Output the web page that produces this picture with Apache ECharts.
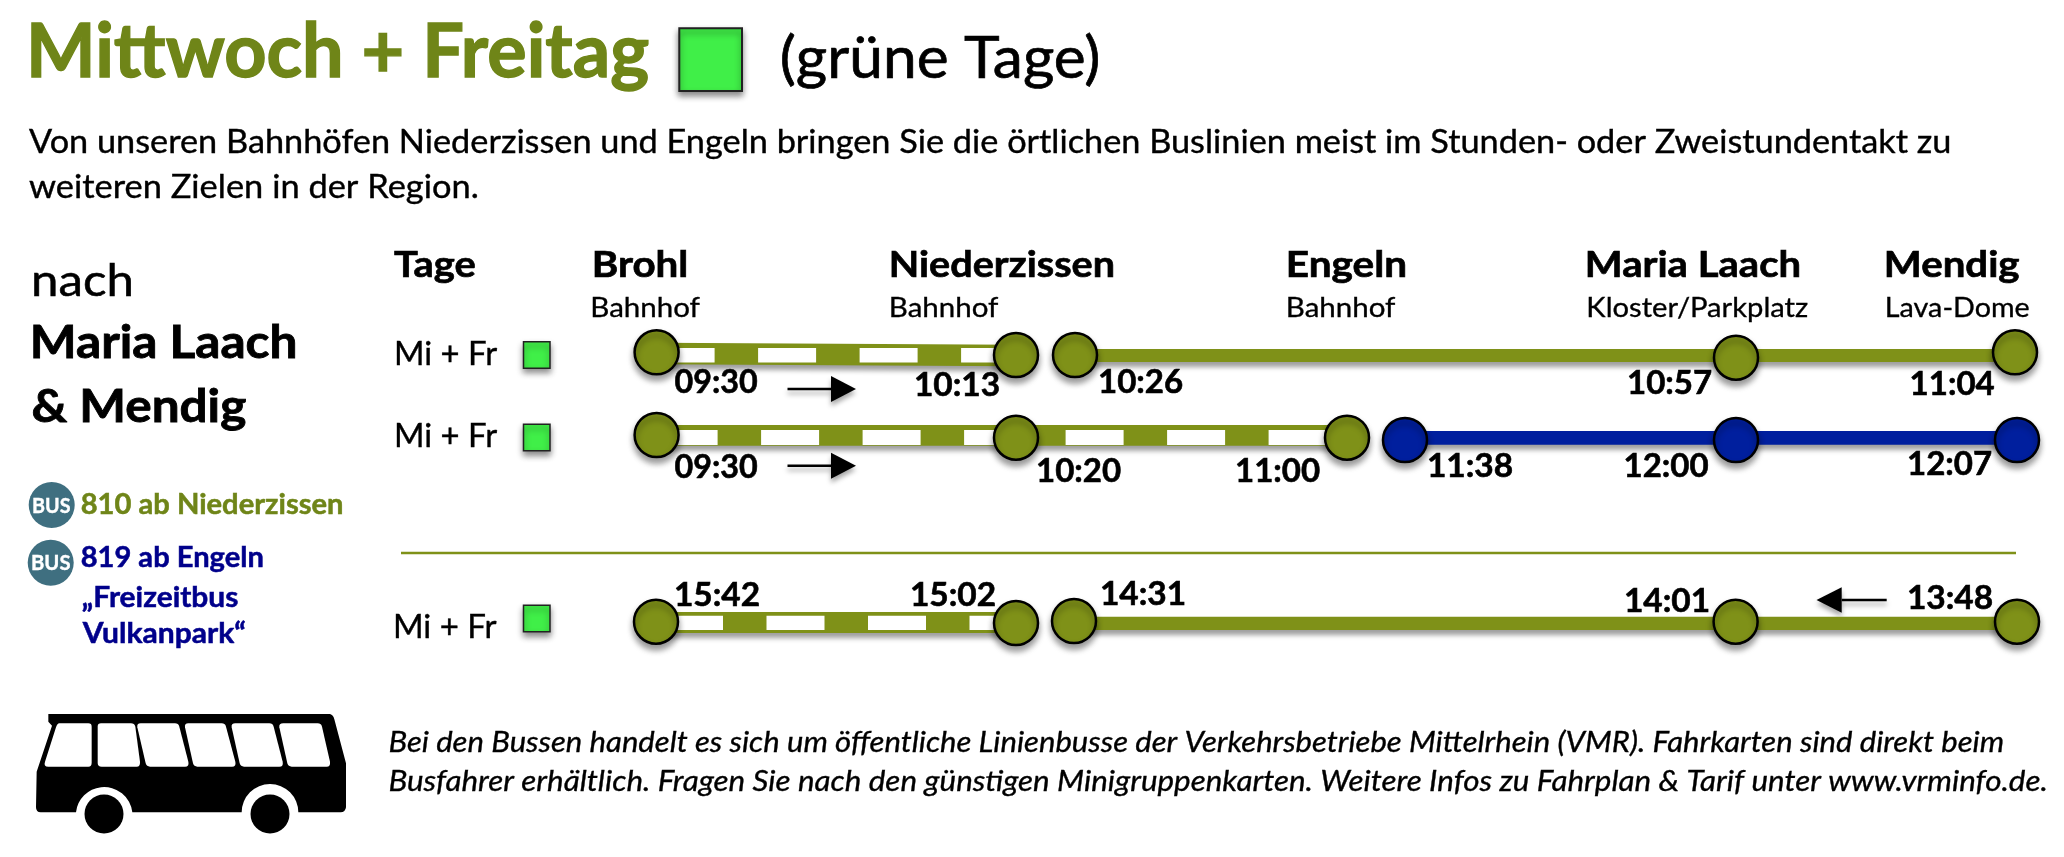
<!DOCTYPE html>
<html>
<head>
<meta charset="utf-8">
<title>Mittwoch + Freitag</title>
<script src="https://cdn.jsdelivr.net/npm/echarts@6/dist/echarts.min.js"></script>
<style>
  html, body { margin: 0; padding: 0; background: #fff; }
  #chart { width: 2064px; height: 857px; }
</style>
</head>
<body>
<div id="chart"></div>
<script>
// timetable values
const stations = ['Brohl', 'Niederzissen', 'Engeln', 'Maria Laach', 'Mendig'];
const stationSubs = ['Bahnhof', 'Bahnhof', 'Bahnhof', 'Kloster/Parkplatz', 'Lava-Dome'];
const dayLabels = ['Mi + Fr', 'Mi + Fr', 'Mi + Fr'];
const row1Train = ['09:30', '10:13'];
const row1Bus = ['10:26', '10:57', '11:04'];
const row2Train = ['09:30', '10:20', '11:00'];
const row2Bus = ['11:38', '12:00', '12:07'];
const row3Train = ['15:42', '15:02'];
const row3Bus = ['14:31', '14:01', '13:48'];

const OLIVE = '#7f9118';
const TITLE_OLIVE = '#6f8518';
const BLUE = '#001f9e';
const NAVY = '#00008b';
const GREEN = '#40ef48';
const FONT = 'Lato';

// where each leg sits on the page
const legs = [
  { times: row1Train, color: OLIVE, dashed: true, xs: [656.6, 1016], nodeY: [352.3, 355], bandY: [353.4, 355.4], band: 21.5, inkY: 355.3, ink: 14.5, shift: 0,
    labelX: [674.5, 916], labelY: [393, 395.7] },
  { times: row1Bus, color: OLIVE, xs: [1075, 1736, 2015], nodeY: [355, 357.7, 352.3], bandY: [355.5, 355.5, 355.5], band: 13,
    labelX: [1100, 1629, 1911.6], labelY: [393, 394, 395] },
  { times: row2Train, color: OLIVE, dashed: true, xs: [656.6, 1016, 1347], nodeY: [435, 437.7, 437.7], bandY: [435.4, 435.4, 435.4], band: 20.7, inkY: 437.5, ink: 15, shift: 98.5,
    labelX: [674.5, 1038, 1237], labelY: [478, 481.7, 482] },
  { times: row2Bus, color: BLUE, xs: [1405, 1736, 2017], nodeY: [440, 440, 440], bandY: [437.9, 437.9, 437.9], band: 13.7,
    labelX: [1429, 1625.5, 1909], labelY: [477, 477, 475] },
  { times: row3Train, color: OLIVE, dashed: true, xs: [656, 1016], nodeY: [621.7, 623], bandY: [622.5, 622.5], band: 21, inkY: 622.9, ink: 14.3, shift: 92.5,
    labelX: [676, 912], labelY: [605.7, 605.7] },
  { times: row3Bus, color: OLIVE, xs: [1074, 1735.6, 2017], nodeY: [621, 621.7, 621.7], bandY: [623.3, 623.3, 623.3], band: 13.3,
    labelX: [1102, 1626, 1909], labelY: [605, 611.7, 609] }
];

const measureCtx = document.createElement('canvas').getContext('2d');

// text element placed by the left edge of its ink, its baseline and its printed width
function textEl(text, x, baseline, width, size, opts) {
  opts = opts || {};
  const weight = opts.weight || 'normal';
  const fontStyle = opts.italic ? 'italic' : 'normal';
  const font = fontStyle + ' ' + weight + ' ' + size + 'px ' + FONT;
  const color = opts.color || '#000';
  measureCtx.font = font;
  const m = measureCtx.measureText(text);
  const scale = width / (m.actualBoundingBoxLeft + m.actualBoundingBoxRight);
  return {
    type: 'text',
    x: x + m.actualBoundingBoxLeft * scale,
    y: baseline - size * 0.32,
    scaleX: scale,
    z: 5,
    style: {
      text: text,
      x: 0,
      y: 0,
      font: font,
      fill: color,
      stroke: color,
      lineWidth: size * (weight === 'bold' ? 0.018 : 0.012),
      align: 'left',
      verticalAlign: 'middle'
    }
  };
}

function square(x, y, w, h, borderWidth) {
  return {
    type: 'rect',
    shape: { x: x, y: y, width: w, height: h },
    style: {
      fill: GREEN,
      stroke: '#222',
      lineWidth: borderWidth,
      shadowBlur: 6,
      shadowOffsetY: 4,
      shadowColor: 'rgba(0,0,0,0.45)'
    }
  };
}

function arrow(tailX, baseX, tipX, y, halfHead) {
  const shadow = { shadowBlur: 5, shadowOffsetY: 4, shadowColor: 'rgba(0,0,0,0.35)' };
  return [
    { type: 'line', shape: { x1: tailX, y1: y, x2: baseX, y2: y }, style: Object.assign({ stroke: '#000', lineWidth: 2.5 }, shadow) },
    { type: 'polygon', shape: { points: [[baseX, y - halfHead], [tipX, y], [baseX, y + halfHead]] }, style: Object.assign({ fill: '#000' }, shadow) }
  ];
}

function badge(cx, cy) {
  return { type: 'circle', shape: { cx: cx, cy: cy, r: 23 }, style: { fill: '#3f6f80' } };
}

// bus silhouette, drawn in a 3x grid and scaled down
const busBody = 'M145 762 L990 762 Q1000 765 1003 778 L1038 910 L1038 1042 Q1036 1057 1022 1057 L895 1057 ' +
  'A85 85 0 0 0 725 1057 L397 1057 A85 85 0 0 0 228 1057 L122 1057 Q108 1057 108 1042 L110 935 L156 797 L145 785 Z';
const busWindows = [
  'M178 790 L265 790 Q275 790 275 800 L275 908 Q275 920 265 920 L145 920 Q130 920 135 905 L168 802 Q172 790 178 790 Z',
  'M303 790 L393 790 Q403 790 406 800 L420 905 Q421 920 410 920 L305 920 Q293 920 293 908 L293 800 Q293 790 303 790 Z',
  'M422 790 L525 790 Q535 790 538 800 L565 905 Q568 920 555 920 L450 920 Q440 920 437 910 L412 802 Q410 790 422 790 Z',
  'M565 790 L665 790 Q675 790 678 800 L706 905 Q709 920 696 920 L592 920 Q582 920 579 910 L555 802 Q553 790 565 790 Z',
  'M706 790 L808 790 Q818 790 821 800 L848 905 Q851 920 838 920 L732 920 Q722 920 719 910 L695 802 Q693 790 706 790 Z',
  'M850 790 L953 790 Q963 790 966 800 L990 905 Q992 920 980 920 L875 920 Q865 920 862 910 L838 802 Q836 790 850 790 Z'
];

function busPart(pathData, fill) {
  return { type: 'path', x: 0, y: 460, scaleX: 1 / 3, scaleY: 1 / 3, shape: { pathData: pathData }, style: { fill: fill } };
}

const graphics = [
  textEl('Mittwoch + Freitag', 31, 77.3, 617, 74, { weight: 'bold', color: TITLE_OLIVE }),
  square(679.3, 28.3, 62.7, 62.7, 2),
  textEl('(grüne Tage)', 781.7, 78.3, 317, 59),
  textEl('Von unseren Bahnhöfen Niederzissen und Engeln bringen Sie die örtlichen Buslinien meist im Stunden- oder Zweistundentakt zu', 29, 153, 1921, 33),
  textEl('weiteren Zielen in der Region.', 29, 198, 448, 33),

  textEl('nach', 34.4, 296, 96.6, 44),
  textEl('Maria Laach', 33, 358.3, 262.4, 46, { weight: 'bold' }),
  textEl('& Mendig', 32.5, 422.3, 213.5, 46, { weight: 'bold' }),
  textEl('Tage', 394, 276.7, 81, 37, { weight: 'bold' }),

  textEl(stations[0], 594, 277, 92, 37, { weight: 'bold' }),
  textEl(stations[1], 891, 277, 222, 37, { weight: 'bold' }),
  textEl(stations[2], 1288, 277, 117, 37, { weight: 'bold' }),
  textEl(stations[3], 1587, 277, 212, 37, { weight: 'bold' }),
  textEl(stations[4], 1886, 277, 133, 37, { weight: 'bold' }),
  textEl(stationSubs[0], 592.5, 316.7, 108, 27),
  textEl(stationSubs[1], 891, 316.7, 108, 27),
  textEl(stationSubs[2], 1288, 316.7, 108, 27),
  textEl(stationSubs[3], 1588.5, 316.7, 219.5, 27),
  textEl(stationSubs[4], 1887, 316.7, 142.5, 27),

  textEl(dayLabels[0], 396, 365, 101.5, 32),
  textEl(dayLabels[1], 396, 446.7, 101.5, 32),
  textEl(dayLabels[2], 395, 638, 102, 32),
  square(523.5, 341.7, 26.5, 26.6, 1.5),
  square(523.5, 424.3, 26.5, 26.4, 1.5),
  square(523.5, 605.3, 26.5, 26.4, 1.5),

  badge(51.7, 505),
  textEl('BUS', 33, 512.7, 37, 21, { weight: 'bold', color: '#fff' }),
  badge(50.7, 562.7),
  textEl('BUS', 32, 570, 38, 21, { weight: 'bold', color: '#fff' }),
  textEl('810 ab Niederzissen', 81.7, 514.3, 261, 28, { weight: 'bold', color: TITLE_OLIVE }),
  textEl('819 ab Engeln', 81.7, 567, 181.3, 28, { weight: 'bold', color: NAVY }),
  textEl('„Freizeitbus', 81.7, 606.7, 156.3, 28, { weight: 'bold', color: NAVY }),
  textEl('Vulkanpark“', 81.7, 643, 163.3, 28, { weight: 'bold', color: NAVY }),

  { type: 'line', shape: { x1: 401, y1: 553, x2: 2016, y2: 553 }, style: { stroke: OLIVE, lineWidth: 2.5 } },

  textEl('Bei den Bussen handelt es sich um öffentliche Linienbusse der Verkehrsbetriebe Mittelrhein (VMR). Fahrkarten sind direkt beim', 389.5, 751.7, 1613.5, 28, { italic: true }),
  textEl('Busfahrer erhältlich. Fragen Sie nach den günstigen Minigruppenkarten. Weitere Infos zu Fahrplan & Tarif unter www.vrminfo.de.', 389.5, 790.7, 1656.5, 28, { italic: true })
].concat(
  arrow(787.5, 831, 856, 389, 13),
  arrow(787.5, 831, 856, 465.7, 13),
  arrow(1886.7, 1841.7, 1816.5, 600, 12.7)
);

const lineShadow = { shadowBlur: 5, shadowOffsetY: 5, shadowColor: 'rgba(0,0,0,0.38)' };
const series = [];

legs.forEach(function (leg) {
  series.push({
    type: 'line',
    z: 2,
    silent: true,
    symbol: 'none',
    data: leg.xs.map(function (x, i) { return [x, leg.bandY[i]]; }),
    lineStyle: Object.assign({ color: leg.color, width: leg.band, cap: 'butt' }, lineShadow)
  });
  if (leg.dashed) {
    series.push({
      type: 'line',
      z: 3,
      silent: true,
      symbol: 'none',
      data: [[leg.xs[0], leg.inkY], [leg.xs[leg.xs.length - 1], leg.inkY]],
      lineStyle: { color: '#fff', width: leg.ink, type: [58, 43.5], dashOffset: leg.shift, cap: 'butt' }
    });
  }
  series.push({
    type: 'scatter',
    z: 4,
    silent: true,
    symbol: 'circle',
    symbolSize: 44,
    data: leg.xs.map(function (x, i) { return [x, leg.nodeY[i]]; }),
    itemStyle: {
      color: leg.color,
      borderColor: '#000',
      borderWidth: 2.5,
      opacity: 1,
      shadowBlur: 6,
      shadowOffsetY: 5,
      shadowColor: 'rgba(0,0,0,0.4)'
    }
  });
  series.push({
    type: 'custom',
    z: 5,
    silent: true,
    data: leg.times.map(function (t, i) { return [leg.labelX[i], leg.labelY[i], t]; }),
    renderItem: function (params, api) {
      const p = api.coord([api.value(0), api.value(1)]);
      return textEl(leg.times[params.dataIndex], p[0], p[1], 83, 33, { weight: 'bold' });
    }
  });
});

// the bus picture needs svg paths, which only custom series can draw
series.push({
  type: 'custom',
  z: 2,
  silent: true,
  data: [[0, 0]],
  renderItem: function () {
    const children = [busPart(busBody, '#000')].concat(busWindows.map(function (w) { return busPart(w, '#fff'); }));
    children.push({ type: 'circle', shape: { cx: 104, cy: 814, r: 19.5 }, style: { fill: '#000' } });
    children.push({ type: 'circle', shape: { cx: 270, cy: 814, r: 19.5 }, style: { fill: '#000' } });
    return { type: 'group', children: children };
  }
});

const chart = echarts.init(document.getElementById('chart'));
chart.setOption({
  animation: false,
  backgroundColor: '#fff',
  grid: { left: 0, right: 0, top: 0, bottom: 0 },
  xAxis: { type: 'value', min: 0, max: 2064, show: false },
  yAxis: { type: 'value', min: 0, max: 857, inverse: true, show: false },
  series: series,
  graphic: { elements: graphics }
});
</script>
</body>
</html>
